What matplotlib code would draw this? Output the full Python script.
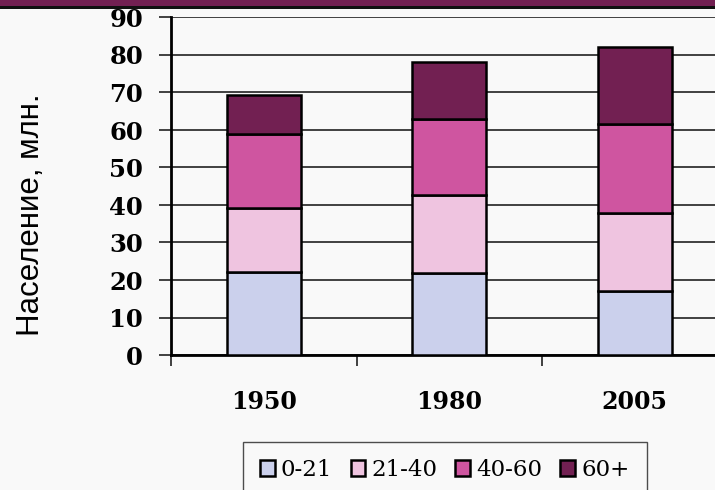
import matplotlib
matplotlib.use("Agg")
import matplotlib.pyplot as plt
from matplotlib.patches import Rectangle
import numpy as np

years = ["1950", "1980", "2005"]
groups = ["0-21", "21-40", "40-60", "60+"]
age_0_21 = [22.2, 22.0, 17.1]
age_21_40 = [16.9, 20.8, 20.7]
age_40_60 = [19.8, 20.1, 23.8]
age_60_plus = [10.4, 15.3, 20.6]
colors = ["#cbd0ec", "#efc4e0", "#cf55a0", "#722052"]
y_ticks = [0, 10, 20, 30, 40, 50, 60, 70, 80, 90]

bg = "#f9f9f9"
fig = plt.figure(figsize=(7.15, 4.9), dpi=100, facecolor=bg)

# header band
fig.patches.append(Rectangle((0, 1 - 6 / 490), 1, 6 / 490, transform=fig.transFigure,
                             facecolor="#722052", edgecolor="none", zorder=0))
fig.patches.append(Rectangle((0, 1 - 9.5 / 490), 1, 3.5 / 490, transform=fig.transFigure,
                             facecolor="#111111", edgecolor="none", zorder=0))

ax = fig.add_axes([171 / 715, 1 - 355 / 490, 556.5 / 715, 337.5 / 490])
ax.set_facecolor(bg)

x = np.arange(len(years))
series = [age_0_21, age_21_40, age_40_60, age_60_plus]
bottom = np.zeros(len(years))
handles = []
for vals, col, name in zip(series, colors, groups):
    b = ax.bar(x, vals, width=0.4, bottom=bottom, color=col, edgecolor="black",
               linewidth=1.8, label=name, zorder=3)
    handles.append(b)
    bottom += np.array(vals)

ax.set_xlim(-0.5, 2.5)
ax.set_ylim(0, 90)
ax.set_yticks(y_ticks)
ax.set_yticklabels([str(v) for v in y_ticks], fontfamily="DejaVu Serif",
                   fontweight="bold", fontsize=17.5)
ax.yaxis.grid(True, color="#222222", linewidth=1.2, zorder=0)
ax.set_axisbelow(True)

ax.set_xticks([-0.5, 0.5, 1.5, 2.5])
ax.set_xticklabels([])
ax.set_xticks(x, minor=True)
ax.set_xticklabels(years, minor=True, fontfamily="DejaVu Serif",
                   fontweight="bold", fontsize=17)
ax.tick_params(axis="x", which="major", direction="out", length=8, width=1.2, color="#222222")
ax.tick_params(axis="x", which="minor", length=0, pad=25)
ax.tick_params(axis="y", direction="out", length=9, width=1.2, color="#222222", pad=11)

for side in ["top", "right"]:
    ax.spines[side].set_visible(False)
ax.spines["left"].set_linewidth(2)
ax.spines["bottom"].set_linewidth(2)

fig.text(31 / 715, 1 - 215 / 490, "Население, млн.", rotation=90, ha="center", va="center",
         fontfamily="Liberation Sans", fontsize=22.5)

leg = fig.legend(handles=handles, labels=groups, loc="upper left",
                 bbox_to_anchor=(243 / 715, 1 - 442 / 490), ncol=4, borderaxespad=0,
                 prop={"family": "DejaVu Serif", "size": 16.5},
                 handlelength=0.65, handleheight=0.65, handletextpad=0.25,
                 columnspacing=0.8, borderpad=0.75, fancybox=False, frameon=True)
leg.get_frame().set_edgecolor("#222222")
leg.get_frame().set_linewidth(1.0)
leg.get_frame().set_facecolor(bg)

fig.savefig("out.png", dpi=100, facecolor=bg)
